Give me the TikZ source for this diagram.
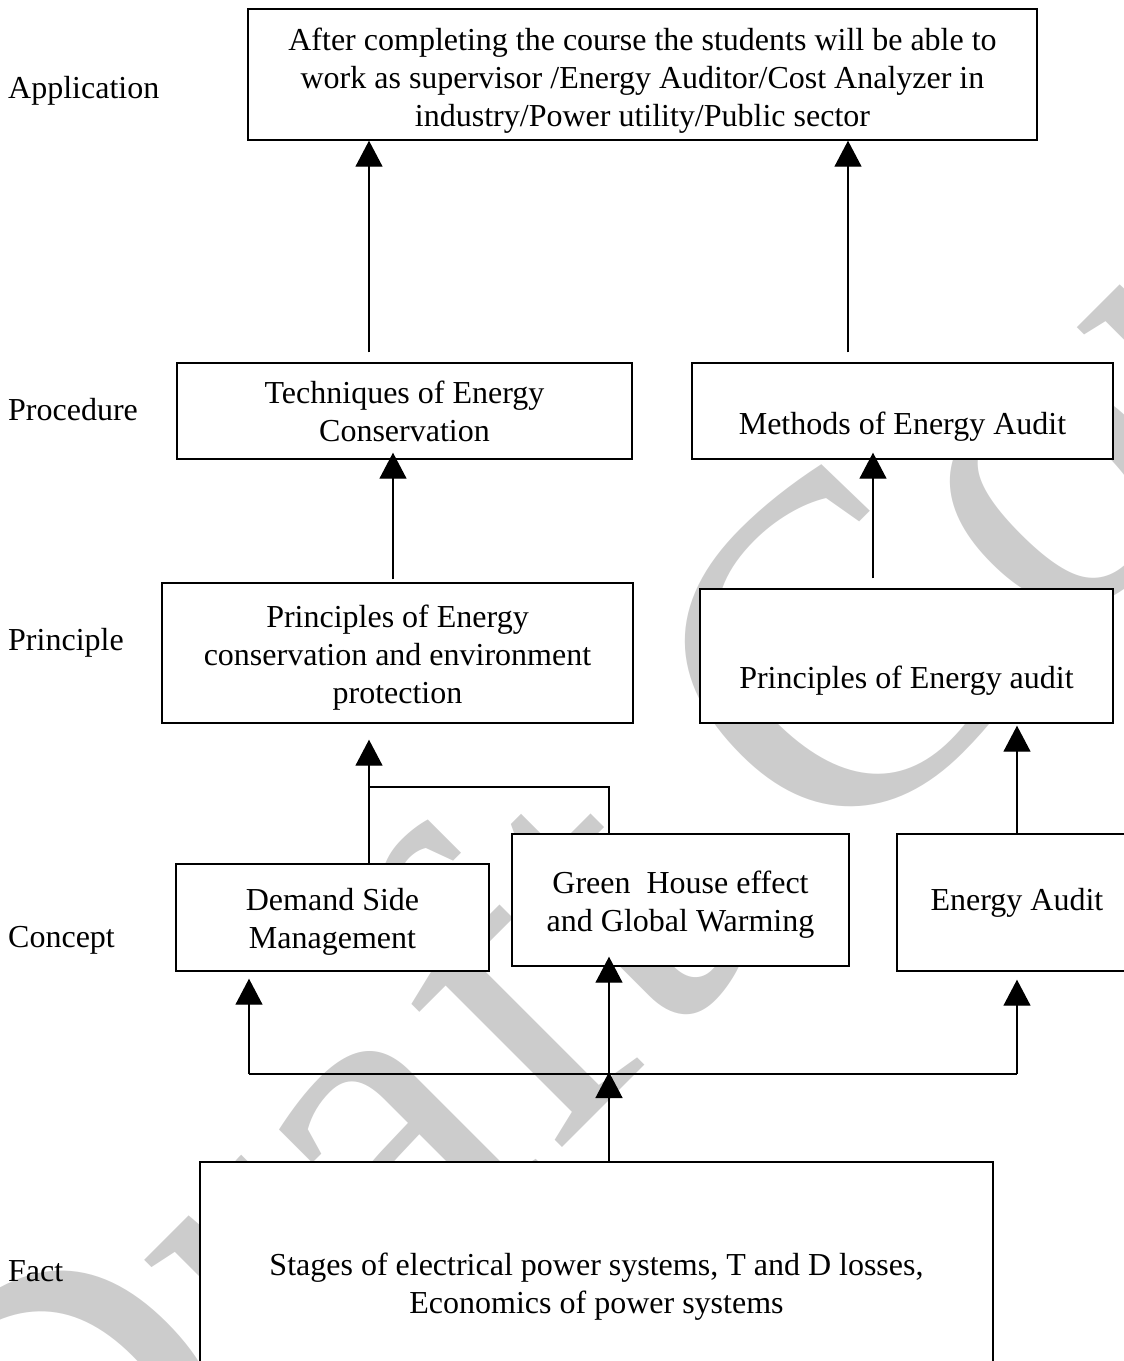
\documentclass[tikz,border=0pt]{standalone}
\usepackage{fontspec}
\setmainfont{Liberation Serif}
\usetikzlibrary{arrows.meta}
\newcommand{\lift}[1]{\rule{0pt}{#1}}

\begin{document}
\begin{tikzpicture}[x=1pt,y=-1pt,
		every node/.style={font=\fontsize{32}{38}\selectfont},
		box/.style={draw, fill=white, line width=1.4pt, inner sep=0pt, align=center},
		lvl/.style={anchor=west, inner sep=0pt},
		arr/.style={line width=1.4pt, -{Triangle[width=27pt,length=26pt]}},
		link/.style={line width=1.4pt}]
			%%%%% START %%%%%
			\useasboundingbox (0,0) rectangle (1124,1361);
			\clip (0,0) rectangle (1124,1361);
			
			% watermark
			\node[text=black!20, rotate=45, anchor=base west, inner sep=0pt, font=\fontsize{470}{470}\selectfont] (wm) at (50,1660) {Draft Copy};
			
			% levels
			\node[lvl] (lapp) at (8,91) {Application};
			\node[lvl] (lproc) at (8,410) {Procedure};
			\node[lvl] (lprin) at (8,643) {Principle};
			\node[lvl] (lconc) at (8,940) {Concept};
			\node[lvl] (lfact) at (8,1271) {Fact};
			
			% boxes
			\node[box, minimum width=789pt, minimum height=131pt] (app) at (642.5,74.5) {\lift{34pt}After completing the course the students will be able to\\work as supervisor /Energy Auditor/Cost Analyzer in\\industry/Power utility/Public sector};
			
			\node[box, minimum width=455pt, minimum height=96pt] (tech) at (404.5,411) {Techniques of Energy\\Conservation};
			\node[box, minimum width=421pt, minimum height=96pt, text height=54pt, text depth=7pt] (meth) at (902.5,411) {Methods of Energy Audit};
			
			\node[box, minimum width=471pt, minimum height=140pt] (pr1) at (397.5,653) {\lift{32pt}Principles of Energy\\conservation and environment\\protection};
			\node[box, minimum width=413pt, minimum height=134pt, text height=72pt, text depth=7pt] (pr2) at (906.5,656) {Principles of Energy audit};
			
			\node[box, minimum width=313pt, minimum height=107pt] (dsm) at (332.5,917.5) {\lift{30pt}Demand Side\\Management};
			\node[box, minimum width=337pt, minimum height=132pt] (ghe) at (680.5,900) {\lift{32pt}Green\ \ House effect\\and Global Warming};
			\node[box, minimum width=240pt, minimum height=137pt] (ea) at (1017,902.5) {Energy Audit};
			
			\node[box, minimum width=793pt, minimum height=244pt] (fact) at (596.5,1284) {\lift{28pt}Stages of electrical power systems, T and D losses,\\Economics of power systems};
			
			% junctions
			\coordinate (jt) at (369,787);
			\coordinate (jl) at (249,1074);
			\coordinate (jm) at (609,1074);
			\coordinate (jr) at (1017,1074);
			
			% arrows
			\draw[arr, shorten <=10pt] ([xshift=-35.5pt]tech.north) -- ([xshift=-35.5pt]tech.north |- app.south);
			\draw[arr, shorten <=10pt] ([xshift=-54.5pt]meth.north) -- ([xshift=-54.5pt]meth.north |- app.south);
			\draw[arr, shorten <=3pt, shorten >=-7pt] ([xshift=-4.5pt]pr1.north) -- ([xshift=-4.5pt]pr1.north |- tech.south);
			\draw[arr, shorten <=10pt, shorten >=-7pt] ([xshift=-33.5pt]pr2.north) -- ([xshift=-33.5pt]pr2.north |- meth.south);
			
			\draw[link] ([xshift=-71.5pt]ghe.north) |- (jt);
			\draw[arr, shorten >=16pt] ([xshift=36.5pt]dsm.north) -- ([xshift=36.5pt]dsm.north |- pr1.south);
			\draw[arr, shorten >=2pt] (ea.north) -- (ea.north |- pr2.south);
			
			\draw[link] (jl) -- (jr);
			\draw[arr, shorten >=-2pt] (fact.north -| jm) -- (jm);
			\draw[arr, shorten >=7pt] (jl) -- (jl |- dsm.south);
			\draw[arr, shorten >=-10pt] (jm) -- (jm |- ghe.south);
			\draw[arr, shorten >=8pt] (jr) -- (jr |- ea.south);
			%%%%% END %%%%%
\end{tikzpicture}
\end{document}
